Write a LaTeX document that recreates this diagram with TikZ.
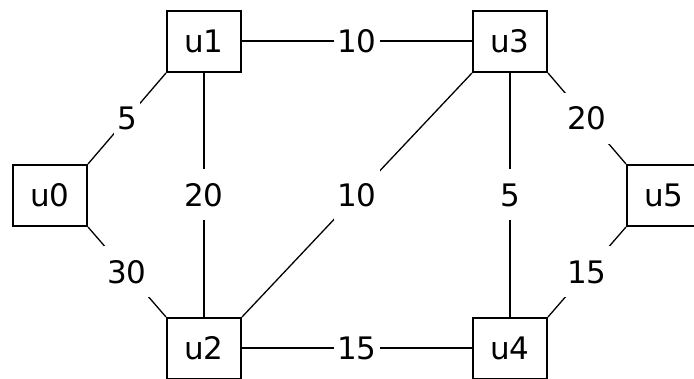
\documentclass[tikz,border=0pt]{standalone}
\usepackage{fontspec}
\setmainfont{DejaVu Sans}
\begin{document}
\begin{tikzpicture}[x=1pt,y=-1pt,
  vbox/.style={draw,line width=2pt,minimum width=74pt,minimum height=61pt,inner sep=0pt,
    font=\fontsize{31}{36}\selectfont,text height=25pt,text depth=2pt},
  wt/.style={fill=white,font=\fontsize{31}{36}\selectfont,text height=25pt,text depth=2pt,
    inner xsep=3pt,inner ysep=12pt},
  edgeline/.style={line width=2pt},
  diagline/.style={line width=1.3pt}]
\useasboundingbox (0,0) rectangle (694,379);
\clip (0,0) rectangle (694,379);
\node[vbox] (u0) at (50,195.5) {u0};
\node[vbox] (u1) at (204,41.5) {u1};
\node[vbox] (u2) at (204,348.5) {u2};
\node[vbox] (u3) at (510,41.5) {u3};
\node[vbox] (u4) at (510,348.5) {u4};
\node[vbox] (u5) at (664,195.5) {u5};
\draw[edgeline] (u1) -- node[wt]{10} (u3);
\draw[edgeline] (u2) -- node[wt]{15} (u4);
\draw[edgeline] (u1) -- node[wt]{20} (u2);
\draw[edgeline] (u3) -- node[wt]{5} (u4);
\draw[diagline] (u0.north east) -- node[wt]{5} (u1.south west);
\draw[diagline] (u0.south east) -- node[wt]{30} (u2.north west);
\draw[diagline] (u2.north east) -- node[wt]{10} (u3.south west);
\draw[diagline] (u3.south east) -- node[wt]{20} (u5.north west);
\draw[diagline] (u4.north east) -- node[wt]{15} (u5.south west);
\end{tikzpicture}
\end{document}
